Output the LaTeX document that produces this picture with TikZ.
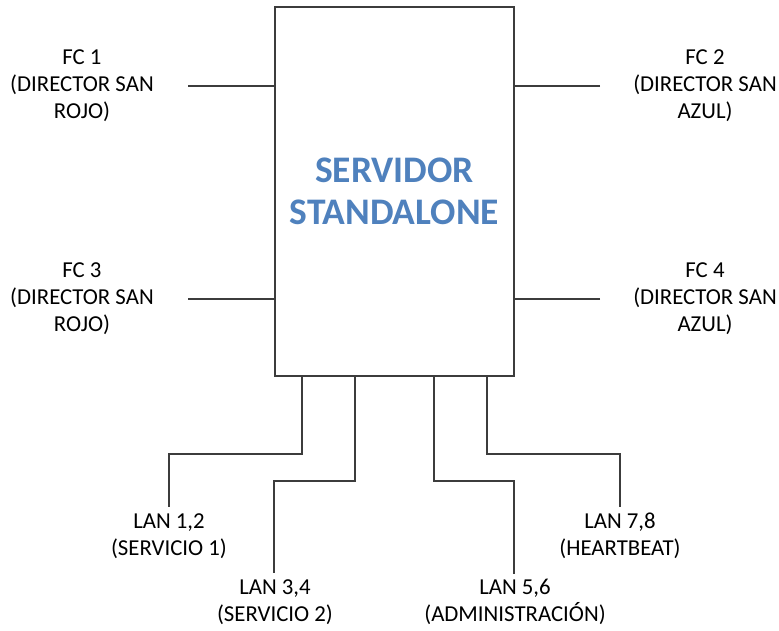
\documentclass[tikz,border=0pt]{standalone}
\usepackage{fontspec}
\setmainfont{Carlito}
\definecolor{srvblue}{RGB}{79,129,189}
\definecolor{linegray}{RGB}{60,60,60}
\begin{document}
\begin{tikzpicture}[x=1pt,y=-1pt,
  lbl/.style={align=center,inner sep=0pt,font=\fontsize{22.8}{27}\selectfont},
  wire/.style={draw=linegray,line width=1.3pt},
]
\useasboundingbox (0,0) rectangle (779,630);
% server box
\node[draw=linegray,line width=1.3pt,minimum width=239pt,minimum height=369pt,inner sep=0pt,
      text=srvblue,font=\fontsize{37.5}{42}\selectfont\bfseries,align=center] (srv) at (394.5,191.5)
  {SERVIDOR\\STANDALONE};
% FC labels
\node[lbl] (fc1) at (82,86) {FC 1\\(DIRECTOR SAN\\ROJO)};
\node[lbl] (fc3) at (82,299) {FC 3\\(DIRECTOR SAN\\ROJO)};
\node[lbl] (fc2) at (705,86) {FC 2\\(DIRECTOR SAN\\AZUL)};
\node[lbl] (fc4) at (705,299) {FC 4\\(DIRECTOR SAN\\AZUL)};
\coordinate (c1) at (188,86);
\coordinate (c3) at (188,299);
\coordinate (c2) at (600,86);
\coordinate (c4) at (600,299);
\draw[wire] (c1) -- (c1 -| srv.west);
\draw[wire] (c3) -- (c3 -| srv.west);
\draw[wire] (c2) -- (c2 -| srv.east);
\draw[wire] (c4) -- (c4 -| srv.east);
% LAN labels
\node[lbl] (lan12) at (169,536) {LAN 1,2\\(SERVICIO 1)};
\node[lbl] (lan34) at (275,602) {LAN 3,4\\(SERVICIO 2)};
\node[lbl] (lan56) at (515,602) {LAN 5,6\\(ADMINISTRACIÓN)};
\node[lbl] (lan78) at (620,536) {LAN 7,8\\(HEARTBEAT)};
\coordinate (e12) at (169,507);
\coordinate (e34) at (274,573);
\coordinate (e56) at (514,574);
\coordinate (e78) at (620,507);
\draw[wire] (srv.south -| 302,0) -- (302,454) -| (e12);
\draw[wire] (srv.south -| 355,0) -- (355,481) -| (e34);
\draw[wire] (srv.south -| 434,0) -- (434,481) -| (e56);
\draw[wire] (srv.south -| 487,0) -- (487,454) -| (e78);
\end{tikzpicture}
\end{document}
